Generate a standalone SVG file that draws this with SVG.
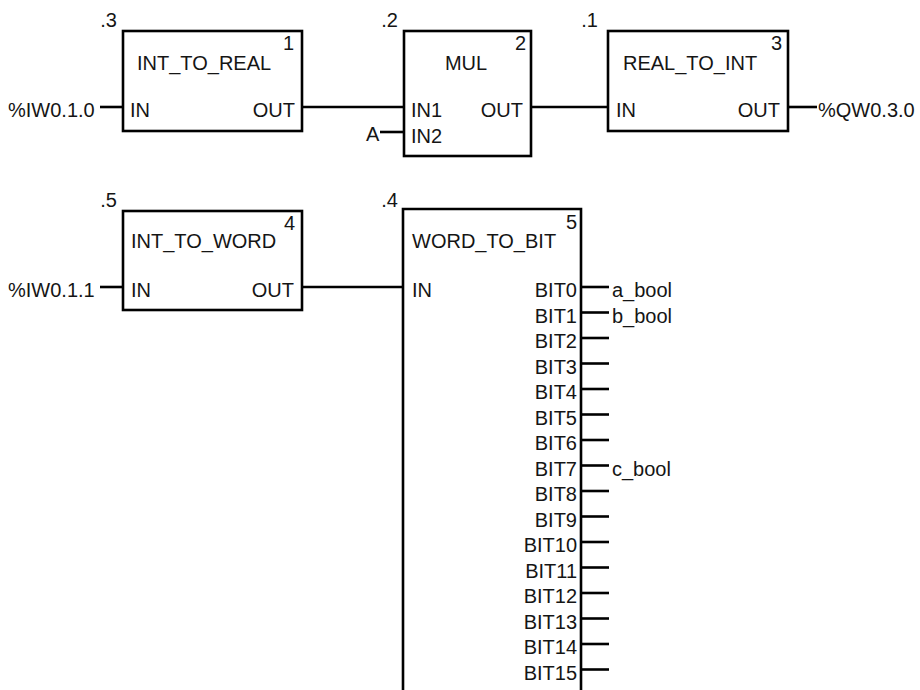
<svg xmlns="http://www.w3.org/2000/svg" width="920" height="690" viewBox="0 0 920 690">
<style>
text{font-family:"Liberation Sans",Arial,sans-serif;font-size:20px;fill:#151515}
.e{text-anchor:end}
.m{text-anchor:middle}
.box{fill:none;stroke:#000;stroke-width:2.6}
.w{stroke:#000;stroke-width:2.6;fill:none}
</style>
<rect width="920" height="690" fill="#fff"/>
<g id="connectors">
<line class="w" x1="100" y1="107" x2="123" y2="107"/>
<line class="w" x1="302" y1="107" x2="404" y2="107"/>
<line class="w" x1="380" y1="132" x2="404" y2="132"/>
<line class="w" x1="531" y1="107" x2="608" y2="107"/>
<line class="w" x1="788" y1="107" x2="817" y2="107"/>
<line class="w" x1="100" y1="287" x2="123" y2="287"/>
<line class="w" x1="302" y1="287" x2="403" y2="287"/>
<g id="bit-outputs">
<line class="w" x1="581" y1="287" x2="609" y2="287"/>
<line class="w" x1="581" y1="312.5" x2="609" y2="312.5"/>
<line class="w" x1="581" y1="338" x2="609" y2="338"/>
<line class="w" x1="581" y1="363.5" x2="609" y2="363.5"/>
<line class="w" x1="581" y1="389" x2="609" y2="389"/>
<line class="w" x1="581" y1="414.5" x2="609" y2="414.5"/>
<line class="w" x1="581" y1="440" x2="609" y2="440"/>
<line class="w" x1="581" y1="465.5" x2="609" y2="465.5"/>
<line class="w" x1="581" y1="491" x2="609" y2="491"/>
<line class="w" x1="581" y1="516.5" x2="609" y2="516.5"/>
<line class="w" x1="581" y1="542" x2="609" y2="542"/>
<line class="w" x1="581" y1="567.5" x2="609" y2="567.5"/>
<line class="w" x1="581" y1="593" x2="609" y2="593"/>
<line class="w" x1="581" y1="618.5" x2="609" y2="618.5"/>
<line class="w" x1="581" y1="644" x2="609" y2="644"/>
<line class="w" x1="581" y1="669.5" x2="609" y2="669.5"/>
</g>
</g>
<g id="var-labels">
<text x="8" y="117">%IW0.1.0</text>
<text x="366" y="141">A</text>
<text x="818" y="117">%QW0.3.0</text>
<text x="8" y="297">%IW0.1.1</text>
<text x="612" y="297">a_bool</text>
<text x="612" y="322.5">b_bool</text>
<text x="612" y="475.5">c_bool</text>
</g>
<g id="block1">
<rect class="box" x="123" y="31" width="179" height="100"/>
<text class="e" x="117" y="27">.3</text>
<text class="e" x="294" y="50">1</text>
<text x="137" y="70">INT_TO_REAL</text>
<text x="130" y="117">IN</text>
<text class="e" x="295" y="117">OUT</text>
</g>
<g id="block2">
<rect class="box" x="404" y="31" width="127" height="125"/>
<text class="e" x="398" y="27">.2</text>
<text class="e" x="526" y="50">2</text>
<text class="m" x="466" y="70">MUL</text>
<text x="411" y="117">IN1</text>
<text x="411" y="143">IN2</text>
<text class="e" x="523" y="117">OUT</text>
</g>
<g id="block3">
<rect class="box" x="608" y="31" width="180" height="100"/>
<text class="e" x="598" y="27">.1</text>
<text class="e" x="782" y="50">3</text>
<text x="623" y="70">REAL_TO_INT</text>
<text x="616" y="117">IN</text>
<text class="e" x="780" y="117">OUT</text>
</g>
<g id="block4">
<rect class="box" x="123" y="211" width="179" height="99"/>
<text class="e" x="117" y="207">.5</text>
<text class="e" x="295" y="230">4</text>
<text x="131" y="248">INT_TO_WORD</text>
<text x="131" y="297">IN</text>
<text class="e" x="294" y="297">OUT</text>
</g>
<g id="block5">
<path class="box" d="M403,692 V209 H581 V692"/>
<text class="e" x="398" y="207">.4</text>
<text class="e" x="577" y="229">5</text>
<text x="412" y="248">WORD_TO_BIT</text>
<text x="412" y="297">IN</text>
<text class="e" x="577" y="297">BIT0</text>
<text class="e" x="577" y="322.5">BIT1</text>
<text class="e" x="577" y="348">BIT2</text>
<text class="e" x="577" y="373.5">BIT3</text>
<text class="e" x="577" y="399">BIT4</text>
<text class="e" x="577" y="424.5">BIT5</text>
<text class="e" x="577" y="450">BIT6</text>
<text class="e" x="577" y="475.5">BIT7</text>
<text class="e" x="577" y="501">BIT8</text>
<text class="e" x="577" y="526.5">BIT9</text>
<text class="e" x="577" y="552">BIT10</text>
<text class="e" x="577" y="577.5">BIT11</text>
<text class="e" x="577" y="603">BIT12</text>
<text class="e" x="577" y="628.5">BIT13</text>
<text class="e" x="577" y="654">BIT14</text>
<text class="e" x="577" y="679.5">BIT15</text>
</g>
</svg>
